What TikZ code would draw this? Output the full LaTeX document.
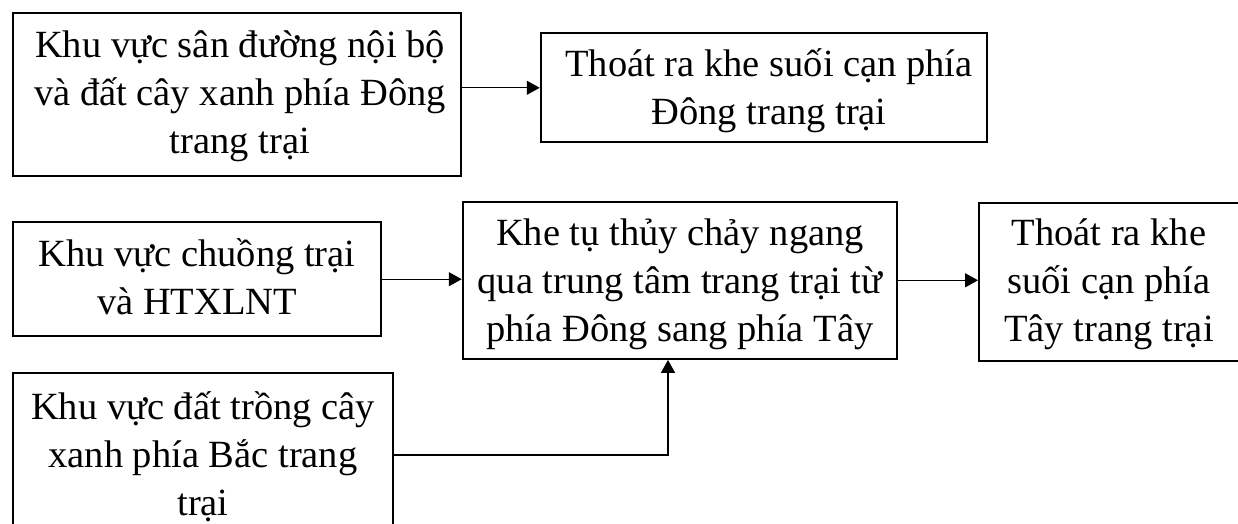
\documentclass[tikz,border=0pt]{standalone}
\usepackage{fontspec}
\setmainfont{Liberation Serif}
\usetikzlibrary{arrows.meta}
\newcommand\mystrut{\rule[-12pt]{0pt}{48pt}}
\begin{document}
\setlength{\lineskiplimit}{-100pt}%
\begin{tikzpicture}[x=1pt,y=-1pt,
  boxst/.style={draw, line width=1.9pt, rectangle, inner sep=0pt},
  txt/.style={align=center, inner sep=0pt,
    font=\fontsize{38.5}{48}\selectfont},
  conn/.style={line width=1.3pt},
  arr/.style={conn, -{Triangle[length=13pt,width=14pt]}}]
\useasboundingbox (0,0) rectangle (1238,523);
% boxes
\node[boxst, minimum width=448pt, minimum height=163pt] (b1) at (236.7,94.2) {};
\node[boxst, minimum width=446pt, minimum height=109pt] (b2) at (763.7,87.8) {};
\node[boxst, minimum width=367.7pt, minimum height=113.7pt] (b3) at (196.8,279.2) {};
\node[boxst, minimum width=434.6pt, minimum height=157.3pt] (b4) at (680,280.3) {};
\node[boxst, minimum width=260.5pt, minimum height=157.4pt] (b5) at (1109.25,282) {};
\node[boxst, minimum width=380.3pt, minimum height=164pt] (b6) at (203.2,455) {};
% texts
\node[txt] (t1) at (240,93.7) {\mystrut Khu vực sân đường nội bộ\\và đất cây xanh phía Đông\\trang trại\mystrut};
\node[txt] (t2) at (769,88) {\mystrut Thoát ra khe suối cạn phía\\Đông trang trại\mystrut};
\node[txt] (t3) at (197,278.7) {\mystrut Khu vực chuồng trại\\và HTXLNT\mystrut};
\node[txt] (t4) at (680,281.3) {\mystrut Khe tụ thủy chảy ngang\\qua trung tâm trang trại từ\\phía Đông sang phía Tây\mystrut};
\node[txt] (t5) at (1109,281.5) {\mystrut Thoát ra khe\\suối cạn phía\\Tây trang trại\mystrut};
\node[txt] (t6) at (203,455.3) {\mystrut Khu vực đất trồng cây\\xanh phía Bắc trang\\trại\mystrut};
% connectors
\draw[arr] (b2.west -| b1.east) -- (b2.west);
\draw[arr] (b3.east) -- (b3.east -| b4.west);
\draw[arr] (b4.east) -- (b4.east -| b5.west);
\draw[arr] (b6.east) -| ([xshift=-12pt]b4.south);
\end{tikzpicture}
\end{document}
